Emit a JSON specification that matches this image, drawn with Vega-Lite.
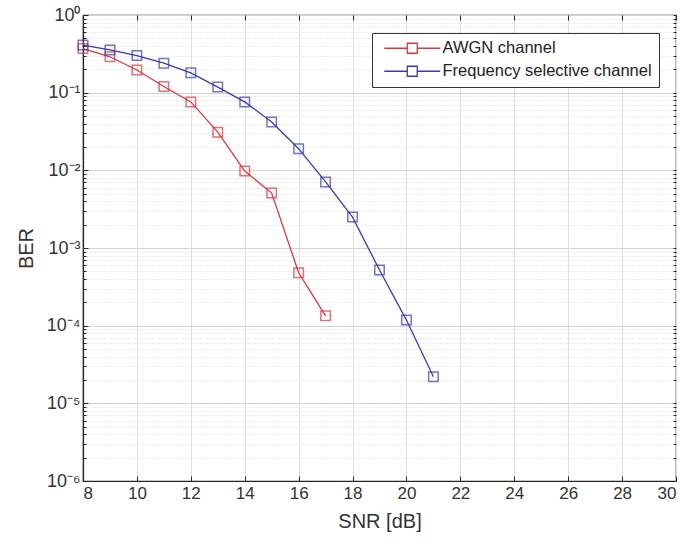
{
  "$schema": "https://vega.github.io/schema/vega-lite/v6.json",
  "width": 593,
  "height": 466,
  "autosize": {"type": "none"},
  "padding": {"left": 83, "top": 15, "right": 12, "bottom": 67},
  "background": "white",
  "config": {
    "font": "Liberation Sans",
    "view": {"stroke": "#262626", "strokeWidth": 1.2},
    "axis": {"labelFont": "Liberation Sans", "titleFont": "Liberation Sans", "labelColor": "#333333", "titleColor": "#333333", "titleFontWeight": "normal", "domainColor": "#262626", "tickColor": "#262626"}
  },
  "data": {
    "values": [
      {"snr": 8, "ber": 0.37, "series": "AWGN channel"},
      {"snr": 9, "ber": 0.29, "series": "AWGN channel"},
      {"snr": 10, "ber": 0.196, "series": "AWGN channel"},
      {"snr": 11, "ber": 0.12, "series": "AWGN channel"},
      {"snr": 12, "ber": 0.076, "series": "AWGN channel"},
      {"snr": 13, "ber": 0.031, "series": "AWGN channel"},
      {"snr": 14, "ber": 0.0098, "series": "AWGN channel"},
      {"snr": 15, "ber": 0.0051, "series": "AWGN channel"},
      {"snr": 16, "ber": 0.00048, "series": "AWGN channel"},
      {"snr": 17, "ber": 0.000134, "series": "AWGN channel"},
      {"snr": 8, "ber": 0.41, "series": "Frequency selective channel"},
      {"snr": 9, "ber": 0.355, "series": "Frequency selective channel"},
      {"snr": 10, "ber": 0.30, "series": "Frequency selective channel"},
      {"snr": 11, "ber": 0.24, "series": "Frequency selective channel"},
      {"snr": 12, "ber": 0.18, "series": "Frequency selective channel"},
      {"snr": 13, "ber": 0.118, "series": "Frequency selective channel"},
      {"snr": 14, "ber": 0.076, "series": "Frequency selective channel"},
      {"snr": 15, "ber": 0.042, "series": "Frequency selective channel"},
      {"snr": 16, "ber": 0.019, "series": "Frequency selective channel"},
      {"snr": 17, "ber": 0.0071, "series": "Frequency selective channel"},
      {"snr": 18, "ber": 0.0025, "series": "Frequency selective channel"},
      {"snr": 19, "ber": 0.00052, "series": "Frequency selective channel"},
      {"snr": 20, "ber": 0.000118, "series": "Frequency selective channel"},
      {"snr": 21, "ber": 0.000022, "series": "Frequency selective channel"}
    ]
  },
  "resolve": {"axis": {"x": "independent", "y": "independent"}},
  "layer": [
    {
      "mark": {"type": "point", "opacity": 0},
      "encoding": {
        "x": {"field": "snr", "type": "quantitative", "scale": {"domain": [8, 30], "nice": false},
          "axis": {"orient": "bottom", "values": [8, 10, 12, 14, 16, 18, 20, 22, 24, 26, 28, 30], "labels": false, "ticks": false, "domain": false, "title": null, "grid": true, "gridColor": "#dedede", "gridWidth": 1}},
        "y": {"field": "ber", "type": "quantitative", "scale": {"type": "log", "domain": [0.000001, 1], "nice": false},
          "axis": {"orient": "left", "values": [0.000002, 0.000003, 0.000004, 0.000005, 0.000006, 0.000007, 0.000008, 0.000009, 0.00002, 0.00003, 0.00004, 0.00005, 0.00006, 0.00007, 0.00008, 0.00009, 0.0002, 0.0003, 0.0004, 0.0005, 0.0006, 0.0007, 0.0008, 0.0009, 0.002, 0.003, 0.004, 0.005, 0.006, 0.007, 0.008, 0.009, 0.02, 0.03, 0.04, 0.05, 0.06, 0.07, 0.08, 0.09, 0.2, 0.3, 0.4, 0.5, 0.6, 0.7, 0.8, 0.9], "labels": false, "tickSize": -3, "domain": false, "title": null, "grid": true, "gridColor": "#d8d8d8", "gridDash": [1, 2], "gridWidth": 1}}
      }
    },
    {
      "mark": {"type": "point", "opacity": 0},
      "encoding": {
        "x": {"field": "snr", "type": "quantitative",
          "axis": {"orient": "top", "values": [8, 10, 12, 14, 16, 18, 20, 22, 24, 26, 28, 30], "labels": false, "tickSize": -5, "domain": false, "title": null, "grid": false}},
        "y": {"field": "ber", "type": "quantitative",
          "axis": {"orient": "right", "values": [0.000001, 0.000002, 0.000003, 0.000004, 0.000005, 0.000006, 0.000007, 0.000008, 0.000009, 0.00001, 0.00002, 0.00003, 0.00004, 0.00005, 0.00006, 0.00007, 0.00008, 0.00009, 0.0001, 0.0002, 0.0003, 0.0004, 0.0005, 0.0006, 0.0007, 0.0008, 0.0009, 0.001, 0.002, 0.003, 0.004, 0.005, 0.006, 0.007, 0.008, 0.009, 0.01, 0.02, 0.03, 0.04, 0.05, 0.06, 0.07, 0.08, 0.09, 0.1, 0.2, 0.3, 0.4, 0.5, 0.6, 0.7, 0.8, 0.9, 1], "labels": false, "tickSize": -3, "domain": false, "title": null, "grid": false}}
      }
    },
    {
      "mark": {"type": "line", "strokeWidth": 1.3},
      "encoding": {
        "x": {"field": "snr", "type": "quantitative",
          "axis": {"orient": "bottom", "values": [8, 10, 12, 14, 16, 18, 20, 22, 24, 26, 28, 30], "tickSize": -5, "labelFontSize": 17, "labelPadding": 9, "title": "SNR [dB]", "titleFontSize": 20, "titlePadding": 10, "grid": false, "domainWidth": 1.2}},
        "y": {"field": "ber", "type": "quantitative",
          "axis": {"orient": "left", "values": [0.000001, 0.00001, 0.0001, 0.001, 0.01, 0.1, 1], "labelExpr": "'10' + (datum.value < 0.5 ? '⁻' : '') + ['⁰','¹','²','³','⁴','⁵','⁶'][abs(round(log(datum.value)/LN10))]", "tickSize": -5, "labelFontSize": 18, "labelPadding": 8, "title": "BER", "titleFontSize": 20, "titlePadding": 10, "grid": true, "gridColor": "#d4d4d4", "gridWidth": 1, "domainWidth": 1.2}},
        "color": {"field": "series", "type": "nominal",
          "scale": {"domain": ["AWGN channel", "Frequency selective channel"], "range": ["#d9363e", "#3a3aad"]},
          "legend": {"title": null, "orient": "none", "legendX": 289, "legendY": 18, "direction": "vertical", "fillColor": "white", "strokeColor": "#333333", "padding": 7, "labelFontSize": 16.5, "labelColor": "#222222", "labelLimit": 400, "labelOffset": 22, "rowPadding": 6, "symbolType": "M-5.6,0L-1,0M1,0L5.6,0M-1,-1L1,-1L1,1L-1,1Z", "symbolSize": 100, "symbolOffset": 25, "symbolStrokeWidth": 1.3, "symbolFillColor": "transparent"}}
      }
    },
    {
      "mark": {"type": "point", "shape": "square", "filled": false, "size": 90, "strokeWidth": 1.5},
      "encoding": {
        "x": {"field": "snr", "type": "quantitative", "axis": null},
        "y": {"field": "ber", "type": "quantitative", "axis": null},
        "color": {"field": "series", "type": "nominal", "legend": null}
      }
    }
  ]
}
